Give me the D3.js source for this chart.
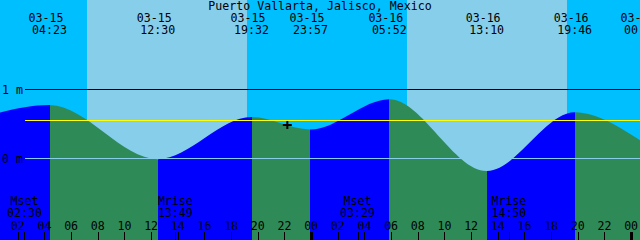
<!DOCTYPE html>
<html>
<head>
<meta charset="utf-8">
<style>
  html, body { margin: 0; padding: 0; background: #00bfff; }
  svg { display: block; }
  text { font-family: 'DejaVu Sans Mono', monospace; font-size: 11.6px; fill: #000; }
</style>
<script src="https://cdn.jsdelivr.net/npm/d3@7"></script>
</head>
<body>
<svg id="chart"></svg>
<script>
  'use strict';

  // chart data
  const stationName = 'Puerto Vallarta, Jalisco, Mexico';
  const viewStart = '2024-03-15T00:40';
  const viewEnd = '2024-03-17T00:40';

  // highs and lows (first and last lie just outside the window)
  const tideTimes = [
    '2024-03-14T23:20', '2024-03-15T04:23', '2024-03-15T12:30', '2024-03-15T19:32',
    '2024-03-15T23:57', '2024-03-16T05:52', '2024-03-16T13:10', '2024-03-16T19:46',
    '2024-03-17T00:47'
  ];
  const tideHeights = [0.60, 0.775, -0.01, 0.60, 0.42, 0.86, -0.18, 0.67, 0.25];

  const sunriseTimes = ['2024-03-15T07:11', '2024-03-16T07:11'];
  const sunsetTimes = ['2024-03-15T19:13', '2024-03-16T19:13'];

  const moonLabels = ['Mset', 'Mrise', 'Mset', 'Mrise'];
  const moonTimes = ['2024-03-15T02:30', '2024-03-15T13:49', '2024-03-16T03:29', '2024-03-16T14:50'];

  const levelValues = [0, 1];
  const levelLabels = ['0 m', '1 m'];
  const meanSeaLevel = 0.55;

  const nowTime = '2024-03-15T22:13';
  const nowHeight = 0.485;

  const colors = {
    night: '#00bfff',
    day: '#87ceeb',
    rising: '#0000ff',
    falling: '#2e8b57',
    datum: '#87ceeb',
    msl: '#ffff00'
  };

  const width = 640;
  const height = 240;
  const parseTime = d3.timeParse('%Y-%m-%dT%H:%M');
  const fmtDate = d3.timeFormat('%m-%d');
  const fmtTime = d3.timeFormat('%H:%M');
  const fmtHour = d3.timeFormat('%H');

  const svg = d3.select('#chart').attr('width', width).attr('height', height);

  const x = d3.scaleTime()
    .domain([parseTime(viewStart), parseTime(viewEnd)])
    .range([0, width]);
  const y = d3.scaleLinear().domain([0, 1]).range([158.5, 89.5]);

  // sky: night background, day bands on top
  svg.append('rect')
    .attr('width', width)
    .attr('height', height)
    .attr('fill', colors.night);

  svg.append('g')
    .selectAll('rect')
    .data(sunriseTimes.map((t, i) => [parseTime(t), parseTime(sunsetTimes[i])]))
    .enter()
    .append('rect')
    .attr('x', (d) => Math.round(x(d[0])))
    .attr('width', (d) => Math.round(x(d[1])) - Math.round(x(d[0])))
    .attr('y', 0)
    .attr('height', height)
    .attr('fill', colors.day);

  // water, coloured by rising / falling segment
  const tide = tideTimes.map((t, i) => ({ time: parseTime(t), height: tideHeights[i] }));
  const area = d3.area()
    .x((d) => x(d.time))
    .y0(height)
    .y1((d) => y(d.height))
    .curve(d3.curveMonotoneX);

  const defs = svg.append('defs');
  const water = svg.append('g');
  for (let i = 0; i < tide.length - 1; i++) {
    const x0 = i === 0 ? -20 : x(tide[i].time);
    const x1 = i === tide.length - 2 ? width + 20 : x(tide[i + 1].time);
    const rising = tide[i + 1].height > tide[i].height;
    defs.append('clipPath')
      .attr('id', `seg-${i}`)
      .append('rect')
      .attr('x', Math.round(x0))
      .attr('width', Math.round(x1) - Math.round(x0))
      .attr('y', 0)
      .attr('height', height);
    water.append('path')
      .attr('d', area(tide))
      .attr('fill', rising ? colors.rising : colors.falling)
      .attr('clip-path', `url(#seg-${i})`);
  }

  // level lines
  const lines = svg.append('g').attr('shape-rendering', 'crispEdges');
  lines.append('line')
    .attr('x1', 25).attr('x2', width)
    .attr('y1', y(1)).attr('y2', y(1))
    .attr('stroke', '#000');
  lines.append('line')
    .attr('x1', 25).attr('x2', width)
    .attr('y1', y(meanSeaLevel)).attr('y2', y(meanSeaLevel))
    .attr('stroke', colors.msl);
  lines.append('line')
    .attr('x1', 25).attr('x2', width)
    .attr('y1', y(0)).attr('y2', y(0))
    .attr('stroke', colors.datum);

  svg.append('g')
    .selectAll('text')
    .data(levelValues)
    .enter()
    .append('text')
    .attr('x', 2)
    .attr('y', (d) => y(d) + 4.5)
    .text((d, i) => levelLabels[i]);

  // title and high/low labels
  svg.append('text')
    .attr('x', width / 2)
    .attr('y', 10)
    .attr('text-anchor', 'middle')
    .text(stationName);

  // only label events whose mark is inside the window (the last one is cut at the edge)
  const labelled = tide.filter((d) => x(d.time) >= 0);
  const events = svg.append('g').attr('text-anchor', 'middle');
  events.selectAll('text.date')
    .data(labelled)
    .enter()
    .append('text')
    .attr('class', 'date')
    .attr('x', (d) => x(d.time) - 3.5)
    .attr('y', 22)
    .text((d) => fmtDate(d.time));
  events.selectAll('text.time')
    .data(labelled)
    .enter()
    .append('text')
    .attr('class', 'time')
    .attr('x', (d) => x(d.time))
    .attr('y', 34)
    .text((d) => fmtTime(d.time));

  // current time mark
  const nx = x(parseTime(nowTime));
  const ny = y(nowHeight);
  svg.append('path')
    .attr('d', `M${nx - 4.5},${ny}H${nx + 4.5}M${nx},${ny - 4}V${ny + 4}`)
    .attr('stroke', '#000')
    .attr('stroke-width', 2)
    .attr('fill', 'none');

  // moon rise / set
  const moon = moonTimes.map((t, i) => ({ time: parseTime(t), label: moonLabels[i] }));
  const moonGroup = svg.append('g').attr('text-anchor', 'middle');
  moonGroup.selectAll('text.name')
    .data(moon)
    .enter()
    .append('text')
    .attr('x', (d) => x(d.time))
    .attr('y', 205)
    .text((d) => d.label);
  moonGroup.selectAll('text.when')
    .data(moon)
    .enter()
    .append('text')
    .attr('x', (d) => x(d.time))
    .attr('y', 217)
    .text((d) => fmtTime(d.time));

  // hour axis along the bottom
  const hours = x.ticks(d3.timeHour.every(2));
  const axis = svg.append('g');
  axis.selectAll('text')
    .data(hours)
    .enter()
    .append('text')
    .attr('x', (d) => x(d))
    .attr('y', 229.5)
    .attr('text-anchor', 'middle')
    .text((d) => fmtHour(d));
  axis.selectAll('line.hour')
    .data(hours)
    .enter()
    .append('line')
    .attr('class', 'hour')
    .attr('x1', (d) => Math.round(x(d)) + 0.5)
    .attr('x2', (d) => Math.round(x(d)) + 0.5)
    .attr('y1', 232)
    .attr('y2', height)
    .attr('stroke', '#000')
    .attr('stroke-width', (d) => (d.getHours() === 0 ? 3 : 1));
  axis.selectAll('line.moon')
    .data(moon)
    .enter()
    .append('line')
    .attr('class', 'moon')
    .attr('x1', (d) => Math.round(x(d.time)) + 0.5)
    .attr('x2', (d) => Math.round(x(d.time)) + 0.5)
    .attr('y1', 232)
    .attr('y2', height)
    .attr('stroke', '#000');
</script>
</body>
</html>
